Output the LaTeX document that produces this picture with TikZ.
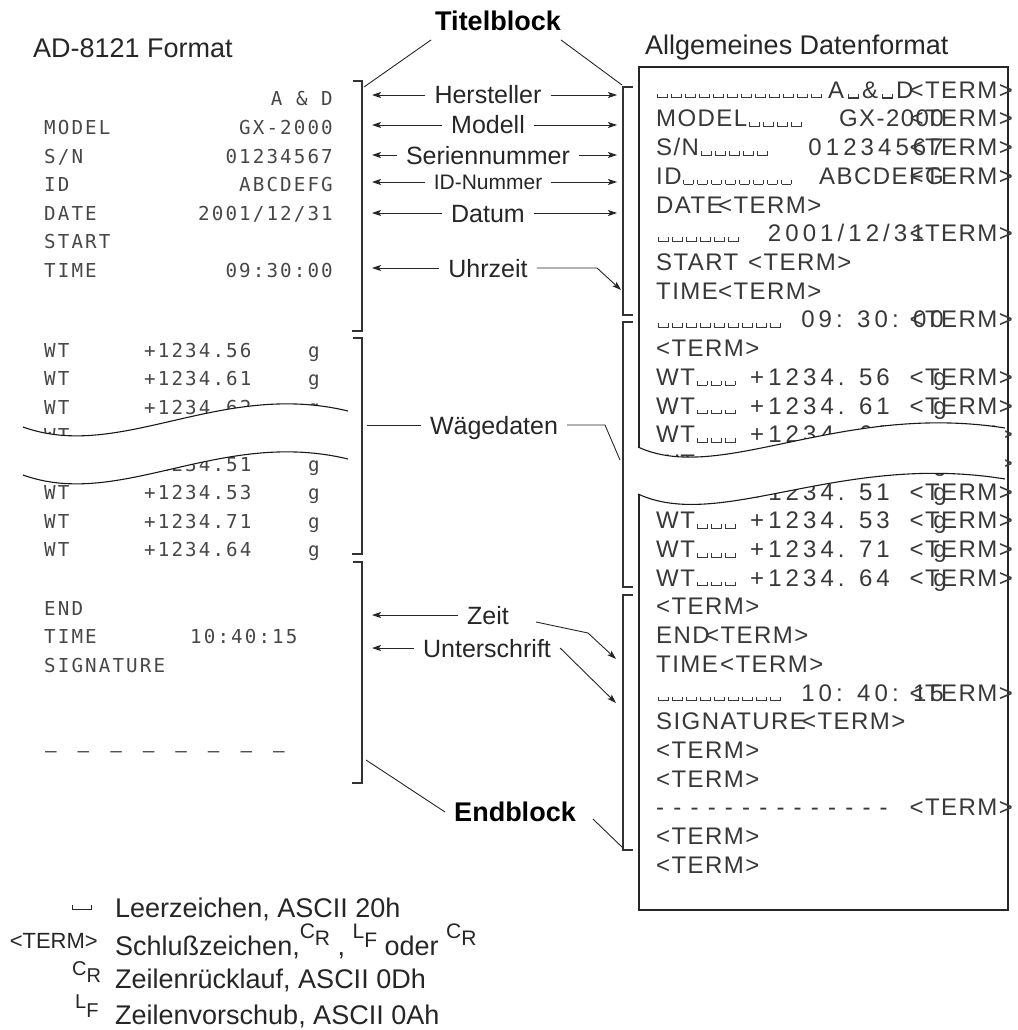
\documentclass[tikz,border=0pt]{standalone}
\usepackage{fontspec}
\setmainfont{Liberation Sans}
\newfontfamily\dmfont[LetterSpace=11]{DejaVu Sans Mono}
\newfontfamily\rbfont[LetterSpace=6]{Liberation Sans}
\newfontfamily\rbdfont[LetterSpace=17]{Liberation Sans}
\usetikzlibrary{arrows.meta}
\newcommand\spc{\kern1.6pt\vrule width .8pt height 4.5pt\vrule width 9.2pt height .8pt\vrule width .8pt height 4.5pt\kern1.6pt}
\newcommand\lspc{\vrule width .9pt height 5pt\vrule width 18pt height .9pt\vrule width .9pt height 5pt}
\newcommand\symCR[1]{{\fontsize{#1}{#1}\selectfont C\raisebox{-0.35em}{R}}}
\newcommand\symLF[1]{{\fontsize{#1}{#1}\selectfont L\raisebox{-0.45em}{F}}}
\newcommand\dd{-\kern9.2pt}
\newcommand\ldd{\textendash\kern21pt}
\begin{document}
\begin{tikzpicture}[x=1pt,y=-1pt,
  lab/.style={font=\fontsize{25}{25}\selectfont, text=black!85, inner xsep=9pt, inner ysep=0pt, text height=18pt, text depth=0pt},
  ttl/.style={font=\fontsize{27}{27}\selectfont, text=black!85, inner sep=0pt},
  leg/.style={font=\fontsize{27}{27}\selectfont, text=black!85, inner sep=0pt},
  dm/.style={font=\dmfont\fontsize{19.2}{20}\selectfont, text=black!72, inner sep=0pt},
  rb/.style={font=\rbfont\fontsize{24}{25}\selectfont, text=black!78, inner sep=0pt},
  rbd/.style={font=\rbdfont\fontsize{24}{25}\selectfont, text=black!78, inner sep=0pt},
  arr/.style={draw=black!85, line width=0.9pt, -{Stealth[length=9pt,width=6pt,inset=2pt]}},
  ln/.style={draw=black!85, line width=0.9pt},
  brk/.style={draw=black!80, line width=1.1pt},
  boxln/.style={draw=black!85, line width=1.3pt},
  wave/.style={draw=black!90, line width=1.1pt}]
\useasboundingbox (0,0) rectangle (1017,1030);

% titles
\node[ttl, anchor=base west] (adf) at (33,58) {AD-8121 Format};
\node[ttl, anchor=base west] (alg) at (645,55) {Allgemeines Datenformat};
\node[lab, font=\bfseries\fontsize{27}{27}\selectfont, text=black, text height=19.5pt] (titel) at (498,21) {Titelblock};

% brackets
\draw[brk] (353,81) -- (362,81) -- (362,331) -- (352,331);
\draw[brk] (353,338) -- (362,338) -- (362,554) -- (352,554);
\draw[brk] (353,562) -- (362,562) -- (362,783) -- (352,783);
\draw[brk] (633,87) -- (623,87) -- (623,315) -- (633,315);
\draw[brk] (633,322) -- (623,322) -- (623,587) -- (633,587);
\draw[brk] (633,595) -- (623,595) -- (623,850) -- (633,850);

% right box
\draw[boxln] (639,67) rectangle (1008,910);

% middle labels
\node[lab] (hers) at (488,95) {Hersteller};
\node[lab] (mod) at (488,125) {Modell};
\node[lab] (ser) at (488,155) {Seriennummer};
\node[lab, font=\fontsize{21}{21}\selectfont, text height=15pt] (idn) at (488,182) {ID-Nummer};
\node[lab] (dat) at (488,213) {Datum};
\node[lab] (uhr) at (488,268) {Uhrzeit};
\node[lab] (wae) at (494,425) {Wägedaten};
\node[lab] (zeit) at (488,615) {Zeit};
\node[lab] (unt) at (487,648) {Unterschrift};
\node[lab, font=\bfseries\fontsize{27}{27}\selectfont, text=black, text height=19.5pt] (endb) at (515,812) {Endblock};

\coordinate (L) at (372,0);
\coordinate (R) at (617,0);
\coordinate (tl) at (364,87);
\coordinate (tr) at (622,85);
\coordinate (uk) at (597,268);
\coordinate (ut) at (621,290);
\coordinate (wl) at (367,425);
\coordinate (wk) at (605,425);
\coordinate (wt) at (620,460);
\coordinate (zk) at (588,633);
\coordinate (zt) at (616,659);
\coordinate (untt) at (616,703);
\coordinate (el) at (366,760);
\coordinate (er) at (623,848);

\draw[ln] ([shift={(5,9)}]titel.south west) -- (tl);
\draw[ln] ([shift={(-9,9)}]titel.south east) -- (tr);
\foreach \n in {hers,mod,ser,idn,dat}{
  \draw[arr] (\n.west) -- (\n.west -| L);
  \draw[arr] (\n.east) -- (\n.east -| R);
}
\draw[arr] (uhr.west) -- (uhr.west -| L);
\draw[arr] (uhr.east) -- (uk) -- (ut);
\draw[ln] (wae.west) -- (wl);
\draw[ln] (wae.east) -- (wk) -- (wt);
\draw[arr] (zeit.west) -- (zeit.west -| L);
\draw[arr] ([shift={(18,7)}]zeit.east) -- (zk) -- (zt);
\draw[arr] (unt.west) -- (unt.west -| L);
\draw[arr] (unt.east) -- (untt);
\draw[ln] (endb.west) -- (el);
\draw[ln] ([shift={(8,7)}]endb.east) -- (er);

% left printout
\node[dm, anchor=base east] (d0v) at (333,106) {A \& D};
\node[dm, anchor=base west] (d1l) at (44,134.5) {MODEL};
\node[dm, anchor=base east] (d1v) at (333,134.5) {GX-2000};
\node[dm, anchor=base west] (d2l) at (44,163) {S/N};
\node[dm, anchor=base east] (d2v) at (333,163) {01234567};
\node[dm, anchor=base west] (d3l) at (44,191.5) {ID};
\node[dm, anchor=base east] (d3v) at (333,191.5) {ABCDEFG};
\node[dm, anchor=base west] (d4l) at (44,220) {DATE};
\node[dm, anchor=base east] (d4v) at (333,220) {2001/12/31};
\node[dm, anchor=base west] (d5l) at (44,248.5) {START};
\node[dm, anchor=base west] (d6l) at (44,277) {TIME};
\node[dm, anchor=base east] (d6v) at (333,277) {09:30:00};
\foreach \i/\b/\v in {0/357/56,1/385.5/61,2/414/62,3/442.5/58,4/471/51,5/499.5/53,6/528/71,7/556.5/64}{
  \node[dm, anchor=base west] (wl\i) at (44,\b) {WT};
  \node[dm, anchor=base west] (wv\i) at (144,\b) {+1234.\v};
  \node[dm, anchor=base west] (wg\i) at (308,\b) {g};
}
\node[dm, anchor=base west] (e0) at (44,615) {END};
\node[dm, anchor=base west] (e1l) at (44,643.5) {TIME};
\node[dm, anchor=base west] (e1v) at (190,643.5) {10:40:15};
\node[dm, anchor=base west] (e2) at (44,672) {SIGNATURE};
\node[dm, anchor=base west] (e5) at (45,757.5) {\ldd\ldd\ldd\ldd\ldd\ldd\ldd\textendash};

% right data format
\node[rb, anchor=base west] (r0s) at (655,98.3) {\spc\spc\spc\spc\spc\spc\spc\spc\spc\spc\spc\spc};
\node[rb, anchor=base west] (r0v) at (828,98.3) {A\kern2pt\spc\kern2pt\&\kern2pt\spc\kern2pt D};
\node[rb, anchor=base east] (r0t) at (1013,98.3) {<TERM>};
\node[rb, anchor=base west] (r1l) at (656,127) {MODEL\spc\spc\spc\spc};
\node[rb, anchor=base east] (r1v) at (944,127) {GX-2000};
\node[rb, anchor=base east] (r1t) at (1013,127) {<TERM>};
\node[rb, anchor=base west] (r2l) at (656,155.7) {S/N\spc\spc\spc\spc\spc};
\node[rbd, anchor=base east] (r2v) at (944,155.7) {01234567};
\node[rb, anchor=base east] (r2t) at (1013,155.7) {<TERM>};
\node[rb, anchor=base west] (r3l) at (656,184.4) {ID\spc\spc\spc\spc\spc\spc\spc\spc};
\node[rb, anchor=base east] (r3v) at (944,184.4) {ABCDEFG};
\node[rb, anchor=base east] (r3t) at (1013,184.4) {<TERM>};
\node[rb, anchor=base west] (r4l) at (656,213.1) {DATE};
\node[rb, anchor=base west] (r4t) at (718,213.1) {<TERM>};
\node[rb, anchor=base west] (r5s) at (656,241.8) {\spc\spc\spc\spc\spc\spc};
\node[rbd, anchor=base east] (r5v) at (925,241.8) {2001/12/31};
\node[rb, anchor=base east] (r5t) at (1013,241.8) {<TERM>};
\node[rb, anchor=base west] (r6l) at (656,270.5) {START};
\node[rb, anchor=base west] (r6t) at (748,270.5) {<TERM>};
\node[rb, anchor=base west] (r7l) at (656,299.2) {TIME};
\node[rb, anchor=base west] (r7t) at (718,299.2) {<TERM>};
\node[rb, anchor=base west] (r8s) at (656,327.9) {\spc\spc\spc\spc\spc\spc\spc\spc\spc};
\node[rbd, anchor=base east] (r8v) at (944,327.9) {09: 30: 00};
\node[rb, anchor=base east] (r8t) at (1013,327.9) {<TERM>};
\node[rb, anchor=base west] (r9t) at (656,356.6) {<TERM>};
\foreach \i/\b/\v in {10/385.3/56,11/414/61,12/442.7/62,13/471.4/58,14/500.1/51,15/528.8/53,16/557.5/71,17/586.2/64}{
  \node[rb, anchor=base west] (rw\i) at (656,\b) {WT\spc\spc\spc};
  \node[rbd, anchor=base west] (rv\i) at (750,\b) {+1234. \v};
  \node[rb, anchor=base east] (rt\i) at (1013,\b) {<TERM>};
  \node[rb, anchor=base] (rg\i) at (940,\b) {g};
}
\node[rb, anchor=base west] (r18t) at (656,614.9) {<TERM>};
\node[rb, anchor=base west] (r19l) at (656,643.6) {END};
\node[rb, anchor=base west] (r19t) at (705,643.6) {<TERM>};
\node[rb, anchor=base west] (r20l) at (656,672.3) {TIME};
\node[rb, anchor=base west] (r20t) at (720,672.3) {<TERM>};
\node[rb, anchor=base west] (r21s) at (656,701) {\spc\spc\spc\spc\spc\spc\spc\spc\spc};
\node[rbd, anchor=base east] (r21v) at (944,701) {10: 40: 15};
\node[rb, anchor=base east] (r21t) at (1013,701) {<TERM>};
\node[rb, anchor=base west] (r22l) at (656,729.7) {SIGNATURE};
\node[rb, anchor=base west] (r22t) at (802,729.7) {<TERM>};
\node[rb, anchor=base west] (r23t) at (656,758.4) {<TERM>};
\node[rb, anchor=base west] (r24t) at (656,787.1) {<TERM>};
\node[rb, anchor=base west] (r25d) at (656,815.8) {\dd\dd\dd\dd\dd\dd\dd\dd\dd\dd\dd\dd\dd-};
\node[rb, anchor=base east] (r25t) at (1013,815.8) {<TERM>};
\node[rb, anchor=base west] (r26t) at (656,844.5) {<TERM>};
\node[rb, anchor=base west] (r27t) at (656,873.2) {<TERM>};

% waves (break marks)
\fill[white] (23,427) .. controls (120,462) and (220,380) .. (348,411) -- (348,459) .. controls (220,428) and (120,510) .. (23,475) -- cycle;
\draw[wave] (23,427) .. controls (120,462) and (220,380) .. (348,411);
\draw[wave] (23,475) .. controls (120,510) and (220,428) .. (348,459);
\fill[white] (638,447) .. controls (720,485) and (840,402) .. (1005,428) -- (1005,479) .. controls (840,452) and (720,532) .. (638,494) -- cycle;
\draw[wave] (638,447) .. controls (720,485) and (840,402) .. (1005,428);
\draw[wave] (638,494) .. controls (720,532) and (840,452) .. (1005,479);

% legend
\node[inner sep=0pt, anchor=base, text=black!85] (lg1s) at (82,910) {\lspc};
\node[leg, anchor=base west] (lg1) at (115,917) {Leerzeichen, ASCII 20h};
\node[inner sep=0pt, anchor=base east, font=\fontsize{22}{22}\selectfont, text=black!85] (lg2s) at (98,948) {<TERM>};
\node[leg, anchor=base west] (lg2) at (115,955) {Schlußzeichen,\raisebox{17pt}{\symCR{21}} , \raisebox{17pt}{\symLF{21}} oder \raisebox{17pt}{\symCR{21}}};
\node[inner sep=0pt, anchor=base west, text=black!85] (lg3s) at (72,975) {\symCR{20}};
\node[leg, anchor=base west] (lg3) at (115,988) {Zeilenrücklauf, ASCII 0Dh};
\node[inner sep=0pt, anchor=base west, text=black!85] (lg4s) at (75,1008) {\symLF{20}};
\node[leg, anchor=base west] (lg4) at (115,1024) {Zeilenvorschub, ASCII 0Ah};
\end{tikzpicture}
\end{document}
